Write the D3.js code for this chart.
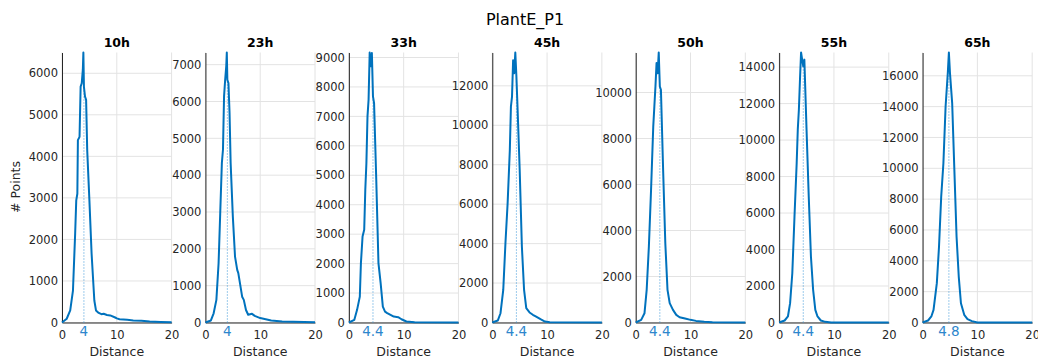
<!DOCTYPE html>
<html><head><meta charset="utf-8">
<script src="https://cdn.jsdelivr.net/npm/d3@7"></script>
<style>body{margin:0;background:#fff;} svg{display:block;font-family:"DejaVu Sans",sans-serif;}</style>
</head><body><svg id="c" width="1038" height="360"></svg>
<script>
const figTitle = "PlantE_P1";
const panelTitles = ["10h","23h","33h","45h","50h","55h","65h"];
const modes = [4, 4, 4.4, 4.4, 4.4, 4.4, 4.8];
const yTickSteps = [1000, 1000, 1000, 2000, 2000, 2000, 2000];
const xTicks = [0, 10, 20];
const xLabel = "Distance";
const yLabel = "# Points";

const dist10h = [0,0.86,1.5,2,2.4,2.6,2.8,2.9,3.2,3.4,3.6,3.8,3.9,4,4.2,4.4,4.6,5,5.4,5.9,6.2,6.7,7.2,7.6,8.2,8.8,9.7,10,10.5,11.9,13,14.5,16,18,20];
const cnt10h  = [0,90,290,770,2140,2940,3100,4390,4470,5680,5760,6080,6500,5680,5440,5360,4150,2940,1660,530,290,230,200,210,180,170,120,100,80,65,50,40,25,15,8];

const dist23h = [0,1,1.5,2,2.4,2.7,3,3.2,3.4,3.6,3.8,3.9,4,4.2,4.4,4.6,5,5.4,5.8,6,6.3,6.7,7,7.4,7.8,8.5,9,10,11,12,14,16,20];
const cnt23h  = [0,55,250,615,1610,2970,4330,4690,6140,6590,6960,7330,6590,6500,5690,4330,2880,1790,1430,1340,1070,700,615,340,210,235,180,120,90,55,27,18,8];

const dist33h = [0,1,1.5,2,2.2,2.5,2.8,3,3.2,3.4,3.6,3.8,4,4.2,4.4,4.6,5,5.4,5.8,6.2,6.6,7,7.6,8.2,9,9.6,10.5,12,20];
const cnt33h  = [0,90,430,880,2020,2920,3150,4510,5410,7000,7570,9170,8700,9150,7680,7450,4850,2020,1340,540,370,320,260,200,180,110,35,10,0];

const dist45h = [0,1,1.5,2,2.4,2.8,3.2,3.4,3.6,3.8,4,4.2,4.4,4.6,5,5.4,5.8,6.2,6.8,7.4,8,8.8,9.6,10.5,20];
const cnt45h  = [0,100,470,1650,4020,6050,8750,10950,11450,13300,12640,13690,12470,10950,7740,3850,1650,730,510,390,300,170,50,15,0];

const dist50h = [0,1,1.6,2,2.4,2.8,3.2,3.4,3.6,3.8,4,4.2,4.4,4.6,5,5.4,5.8,6.2,6.8,7.4,8,9,10,11,12.5,14,20];
const cnt50h  = [0,115,400,1420,3300,5770,8520,9390,10260,11280,10840,11740,10260,10120,6640,3450,1420,840,550,330,230,170,115,70,30,10,0];

const dist55h = [0,1,1.6,2,2.4,2.8,3.2,3.4,3.6,3.8,4,4.2,4.4,4.6,5,5.4,5.8,6.2,6.6,7,7.6,8.4,9.5,20];
const cnt55h  = [0,110,330,1060,2700,5810,8740,10570,11660,13310,14800,14410,14040,14410,10570,6910,3620,1790,690,330,110,35,0,0];

const dist65h = [0,1,1.6,2,2.6,3,3.4,3.8,4.2,4.6,4.8,5,5.4,5.8,6.2,6.6,7,7.6,8.2,9,10,20];
const cnt65h  = [0,130,390,820,2550,4930,8170,10330,14010,16170,17510,16170,14230,9900,5580,2980,1250,500,220,90,0,0];

const dists = [dist10h, dist23h, dist33h, dist45h, dist50h, dist55h, dist65h];
const counts = [cnt10h, cnt23h, cnt33h, cnt45h, cnt50h, cnt55h, cnt65h];

const svg = d3.select("#c");
const left0 = 62, stepX = 143.43, pw = 109.6, plotTop = 52.5, plotBottom = 322.5;
const lineCol = "#0072BD", txtCol = "#262626", gridCol = "#e3e3e3";

svg.append("text").attr("x", 525).attr("y", 25).attr("text-anchor","middle")
  .attr("font-size", 16).attr("fill", "#000").text(figTitle);

svg.append("text").attr("transform", "translate(20,187) rotate(-90)")
  .attr("text-anchor","middle").attr("font-size", 12.5).attr("fill", txtCol).text(yLabel);

panelTitles.forEach((t, i) => {
  const x0 = left0 + i*stepX;
  const g = svg.append("g");
  const data = dists[i].map((d, k) => ({d, v: counts[i][k]}));
  const x = d3.scaleLinear().domain([0, 20]).range([x0, x0 + pw]);
  const y = d3.scaleLinear().domain([0, d3.max(counts[i])]).range([plotBottom, plotTop]);
  const yt = d3.range(0, d3.max(counts[i]) + 1, yTickSteps[i]);

  // grid
  g.selectAll(".gy").data(yt).join("line")
    .attr("x1", x0).attr("x2", x0 + pw).attr("y1", d => y(d)).attr("y2", d => y(d))
    .attr("stroke", gridCol).attr("stroke-width", 1);
  g.selectAll(".gx").data(xTicks).join("line")
    .attr("x1", d => x(d)).attr("x2", d => x(d)).attr("y1", plotTop).attr("y2", plotBottom)
    .attr("stroke", gridCol).attr("stroke-width", 1);

  // y axis
  const ya = g.append("g").attr("transform", `translate(${x0},0)`)
    .call(d3.axisLeft(y).tickValues(yt).tickSize(0).tickPadding(4).tickFormat(d3.format("d")));
  ya.select(".domain").attr("stroke", txtCol);
  ya.selectAll("text").attr("font-size", 11.5).attr("fill", txtCol).attr("font-family", "DejaVu Sans");

  // x axis
  const xa = g.append("g").attr("transform", `translate(0,${plotBottom})`)
    .call(d3.axisBottom(x).tickValues(xTicks).tickSize(0).tickPadding(8).tickFormat(d3.format("d")));
  xa.select(".domain").attr("stroke", txtCol);
  xa.selectAll("text").attr("font-size", 11.5).attr("fill", txtCol).attr("font-family", "DejaVu Sans");

  // mode line
  const bis = d3.bisector(p => p.d).left;
  const k = bis(data, modes[i]);
  let mv;
  if (data[k].d === modes[i] || k === 0) mv = data[k].v;
  else { const a = data[k-1], b = data[k]; mv = a.v + (b.v - a.v) * (modes[i] - a.d) / (b.d - a.d); }
  g.append("line").attr("x1", x(modes[i])).attr("x2", x(modes[i]))
    .attr("y1", plotBottom).attr("y2", y(mv))
    .attr("stroke", "#3b97d8").attr("stroke-width", 1).attr("stroke-dasharray", "1,2");

  g.append("text").attr("x", x(modes[i])).attr("y", 336).attr("text-anchor", "middle")
    .attr("font-size", 13.5).attr("fill", "#2d86cc").text(modes[i]);

  // curve
  g.append("path").datum(data)
    .attr("d", d3.line().x(p => x(p.d)).y(p => y(p.v)))
    .attr("fill", "none").attr("stroke", lineCol).attr("stroke-width", 2).attr("stroke-linejoin", "round");

  g.append("text").attr("x", x0 + pw/2).attr("y", 47).attr("text-anchor", "middle")
    .attr("font-size", 12.5).attr("font-weight", "bold").attr("fill", "#000").text(t);

  g.append("text").attr("x", x0 + pw/2).attr("y", 356).attr("text-anchor", "middle")
    .attr("font-size", 12.5).attr("fill", txtCol).text(xLabel);
});
</script></body></html>
